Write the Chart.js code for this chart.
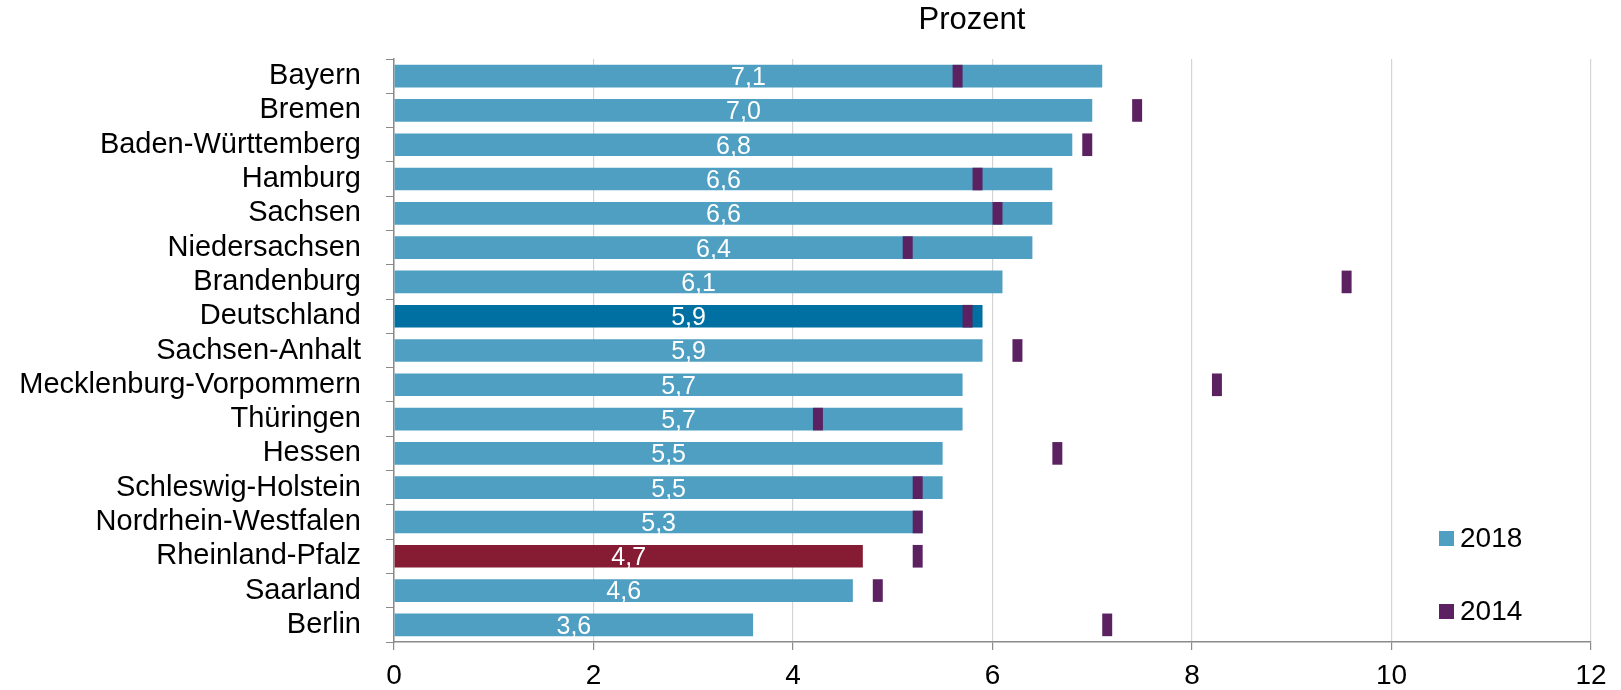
<!DOCTYPE html>
<html lang="de">
<head>
<meta charset="utf-8">
<title>Prozent</title>
<script src="https://cdn.jsdelivr.net/npm/chart.js@4/dist/chart.umd.min.js"></script>
<style>
    html, body { margin: 0; padding: 0; background: #fff; }
    #wrap { width: 1621px; height: 690px; position: relative; }
</style>
</head>
<body>
<div id="wrap"><canvas id="quoteChart"></canvas></div>
<script>
const laender = [
    "Bayern", "Bremen", "Baden-Württemberg", "Hamburg", "Sachsen",
    "Niedersachsen", "Brandenburg", "Deutschland", "Sachsen-Anhalt",
    "Mecklenburg-Vorpommern", "Thüringen", "Hessen", "Schleswig-Holstein",
    "Nordrhein-Westfalen", "Rheinland-Pfalz", "Saarland", "Berlin",
];
const werte2018 = [7.1, 7.0, 6.8, 6.6, 6.6, 6.4, 6.1, 5.9, 5.9, 5.7, 5.7, 5.5, 5.5, 5.3, 4.7, 4.6, 3.6];
const werte2014 = [5.65, 7.45, 6.95, 5.85, 6.05, 5.15, 9.55, 5.75, 6.25, 8.25, 4.25, 6.65, 5.25, 5.25, 5.25, 4.85, 7.15];
const xTicks = [0, 2, 4, 6, 8, 10, 12];

const FONT = "'Liberation Sans', Arial, sans-serif";
const blau = "#4e9fc1";
const markerHalf = 0.05;

function barColor(name) {
    if (name === "Deutschland") return "#0070a2";
    if (name === "Rheinland-Pfalz") return "#861c33";
    return blau;
}

function fmt(v) {
    return v.toFixed(1).replace(".", ",");
}

const valueLabels = {
    id: "valueLabels",
    afterDatasetsDraw(chart) {
        const meta = chart.getDatasetMeta(1);
        const { ctx } = chart;
        ctx.save();
        ctx.fillStyle = "#ffffff";
        ctx.font = "25px " + FONT;
        ctx.textAlign = "center";
        ctx.textBaseline = "middle";
        meta.data.forEach((bar, i) => {
            const x = (bar.base + bar.x) / 2;
            ctx.fillText(fmt(werte2018[i]), x, bar.y + 2);
        });
        ctx.restore();
    },
};

const titleAndLegend = {
    id: "titleAndLegend",
    afterDraw(chart) {
        const { ctx } = chart;
        ctx.save();
        ctx.fillStyle = "#000";
        ctx.font = "31px " + FONT;
        ctx.textAlign = "center";
        ctx.textBaseline = "middle";
        ctx.fillText("Prozent", 972, 20);

        // legend inside the plot, bottom right
        const items = [
            { label: chart.data.datasets[1].label, color: blau, y: 538 },
            { label: chart.data.datasets[0].label, color: chart.data.datasets[0].backgroundColor, y: 611 },
        ];
        ctx.font = "28px " + FONT;
        ctx.textAlign = "left";
        items.forEach((it) => {
            ctx.fillStyle = it.color;
            ctx.fillRect(1439, it.y - 7, 15, 15);
            ctx.fillStyle = "#000";
            ctx.fillText(it.label, 1460, it.y + 1);
        });
        ctx.restore();
    },
};

new Chart(document.getElementById("quoteChart"), {
    type: "bar",
    data: {
        labels: laender,
        datasets: [
            {
                label: "2014",
                data: werte2014.map((v) => [v - markerHalf, v + markerHalf]),
                backgroundColor: "#5b2161",
                order: 0,
            },
            {
                label: "2018",
                data: werte2018,
                backgroundColor: laender.map(barColor),
                order: 1,
            },
        ],
    },
    options: {
        indexAxis: "y",
        responsive: true,
        maintainAspectRatio: false,
        animation: false,
        layout: { padding: { top: 59, right: 30, left: 0, bottom: 0 } },
        datasets: {
            bar: {
                grouped: false,
                barPercentage: 0.66,
                categoryPercentage: 1,
                borderWidth: 0,
            },
        },
        plugins: {
            legend: { display: false },
            tooltip: { enabled: false },
        },
        scales: {
            x: {
                min: 0,
                max: 12,
                afterBuildTicks(scale) {
                    scale.ticks = xTicks.map((v) => ({ value: v }));
                },
                afterFit(scale) {
                    scale.height = 48;
                },
                border: { color: "#8a8a8a", width: 1.5 },
                grid: { color: "#d4d4d4", lineWidth: 1.2, tickLength: 8, tickColor: "#8a8a8a" },
                ticks: { color: "#000", font: { family: FONT, size: 28 }, padding: 9 },
            },
            y: {
                afterFit(scale) {
                    scale.width = 394;
                },
                border: { color: "#8a8a8a", width: 1.5 },
                grid: { drawOnChartArea: false, offset: true, tickLength: 8, color: "#8a8a8a" },
                ticks: { color: "#000", font: { family: FONT, size: 29 }, padding: 25, autoSkip: false },
            },
        },
    },
    plugins: [valueLabels, titleAndLegend],
});
</script>
</body>
</html>
